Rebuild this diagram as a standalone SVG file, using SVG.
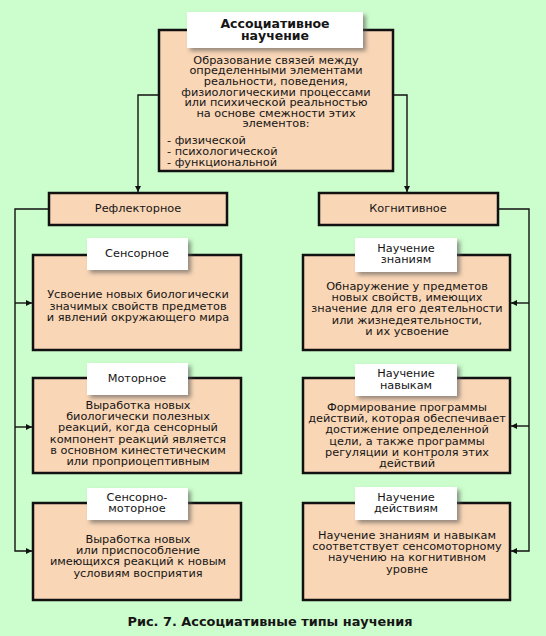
<svg xmlns="http://www.w3.org/2000/svg" width="546" height="636" viewBox="0 0 546 636">
<style>
.bg{fill:#ccfdcc}
.box{fill:#f9d6b6;stroke:#111;stroke-width:2.5}
.lbl{fill:#fff}
.t{font-family:"DejaVu Sans",Verdana,sans-serif;font-size:11.3px;fill:#151515;text-anchor:middle}
.tl{text-anchor:start}
.b{font-weight:bold;font-size:12.5px}
.cap{font-weight:bold;font-size:12.9px}
.c{fill:none;stroke:#111;stroke-width:1.4}
</style>
<defs>
<filter id="sh" x="-20%" y="-30%" width="150%" height="180%">
<feDropShadow dx="3" dy="3" stdDeviation="2" flood-color="#555" flood-opacity="0.6"/>
</filter>
<marker id="ar" viewBox="0 0 10 10" refX="10" refY="5" markerWidth="7" markerHeight="6" orient="auto" markerUnits="userSpaceOnUse">
<path d="M0,0 L10,5 L0,10 z" fill="#111"/>
</marker>
</defs>
<rect class="bg" x="0" y="0" width="546" height="636"/>

<g id="connectors">
<path class="c" d="M159,95 H138 V192" marker-end="url(#ar)"/>
<path class="c" d="M393,95 H407 V192" marker-end="url(#ar)"/>
<path class="c" d="M49,209 H15 V551 H32" marker-end="url(#ar)"/>
<path class="c" d="M15,303 H32" marker-end="url(#ar)"/>
<path class="c" d="M15,427 H32" marker-end="url(#ar)"/>
<path class="c" d="M498,209 H529 V551 H511" marker-end="url(#ar)"/>
<path class="c" d="M529,303 H511" marker-end="url(#ar)"/>
<path class="c" d="M529,426 H511" marker-end="url(#ar)"/>
</g>

<g id="main">
<rect class="box" x="159" y="30" width="234" height="141"/>
<rect class="lbl" x="187" y="12" width="176" height="36" filter="url(#sh)"/>
<text class="t b" x="275" y="28">Ассоциативное</text>
<text class="t b" x="275" y="40">научение</text>
<text class="t" x="276" y="63.5">Образование связей между</text>
<text class="t" x="276" y="74.3">определенными элементами</text>
<text class="t" x="276" y="85">реальности, поведения,</text>
<text class="t" x="276" y="95.6">физиологическими процессами</text>
<text class="t" x="276" y="106.2">или психической реальностью</text>
<text class="t" x="276" y="116.8">на основе смежности этих</text>
<text class="t" x="276" y="127.4">элементов:</text>
<text class="t tl" x="167" y="144">- физической</text>
<text class="t tl" x="167" y="155">- психологической</text>
<text class="t tl" x="167" y="166">- функциональной</text>
</g>

<g id="reflex">
<rect class="box" x="49" y="193" width="178" height="32"/>
<text class="t" x="138" y="212">Рефлекторное</text>
</g>

<g id="cognitive">
<rect class="box" x="319" y="193" width="179" height="32"/>
<text class="t" x="408" y="212">Когнитивное</text>
</g>

<g id="sensory">
<rect class="box" x="33" y="255" width="208" height="95"/>
<rect class="lbl" x="87" y="238" width="101" height="32" filter="url(#sh)"/>
<text class="t" x="137" y="257">Сенсорное</text>
<text class="t" x="138" y="298">Усвоение новых биологически</text>
<text class="t" x="138" y="309.5">значимых свойств предметов</text>
<text class="t" x="138" y="321">и явлений окружающего мира</text>
</g>

<g id="motor">
<rect class="box" x="33" y="378" width="208" height="95"/>
<rect class="lbl" x="87" y="363" width="101" height="32" filter="url(#sh)"/>
<text class="t" x="137" y="382">Моторное</text>
<text class="t" x="138" y="409">Выработка новых</text>
<text class="t" x="138" y="420.2">биологически полезных</text>
<text class="t" x="138" y="431.4">реакций, когда сенсорный</text>
<text class="t" x="138" y="442.6">компонент реакций является</text>
<text class="t" x="138" y="453.8">в основном кинестетическим</text>
<text class="t" x="138" y="465">или проприоцептивным</text>
</g>

<g id="sensorimotor">
<rect class="box" x="33" y="503" width="208" height="97"/>
<rect class="lbl" x="87" y="488" width="101" height="32" filter="url(#sh)"/>
<text class="t" x="137" y="501">Сенсорно-</text>
<text class="t" x="137" y="512">моторное</text>
<text class="t" x="138" y="543">Выработка новых</text>
<text class="t" x="138" y="554.2">или приспособление</text>
<text class="t" x="138" y="565.4">имеющихся реакций к новым</text>
<text class="t" x="138" y="576.6">условиям восприятия</text>
</g>

<g id="knowledge">
<rect class="box" x="303" y="255" width="207" height="95"/>
<rect class="lbl" x="355" y="238" width="102" height="34" filter="url(#sh)"/>
<text class="t" x="406" y="252">Научение</text>
<text class="t" x="406" y="263">знаниям</text>
<text class="t" x="407" y="290">Обнаружение у предметов</text>
<text class="t" x="407" y="301.2">новых свойств, имеющих</text>
<text class="t" x="407" y="312.4">значение для его деятельности</text>
<text class="t" x="407" y="323.6">или жизнедеятельности,</text>
<text class="t" x="407" y="334.8">и их усвоение</text>
</g>

<g id="skills">
<rect class="box" x="303" y="378" width="207" height="95"/>
<rect class="lbl" x="355" y="364" width="102" height="32" filter="url(#sh)"/>
<text class="t" x="406" y="377">Научение</text>
<text class="t" x="406" y="389">навыкам</text>
<text class="t" x="407" y="411">Формирование программы</text>
<text class="t" x="407" y="422.2">действий, которая обеспечивает</text>
<text class="t" x="407" y="433.4">достижение определенной</text>
<text class="t" x="407" y="444.6">цели, а также программы</text>
<text class="t" x="407" y="455.8">регуляции и контроля этих</text>
<text class="t" x="407" y="467">действий</text>
</g>

<g id="actions">
<rect class="box" x="303" y="503" width="207" height="97"/>
<rect class="lbl" x="355" y="487" width="102" height="33" filter="url(#sh)"/>
<text class="t" x="406" y="501">Научение</text>
<text class="t" x="406" y="512">действиям</text>
<text class="t" x="407" y="539">Научение знаниям и навыкам</text>
<text class="t" x="407" y="550.2">соответствует сенсомоторному</text>
<text class="t" x="407" y="561.4">научению на когнитивном</text>
<text class="t" x="407" y="572.6">уровне</text>
</g>

<text class="t cap" x="270" y="626">Рис. 7. Ассоциативные типы научения</text>
</svg>
